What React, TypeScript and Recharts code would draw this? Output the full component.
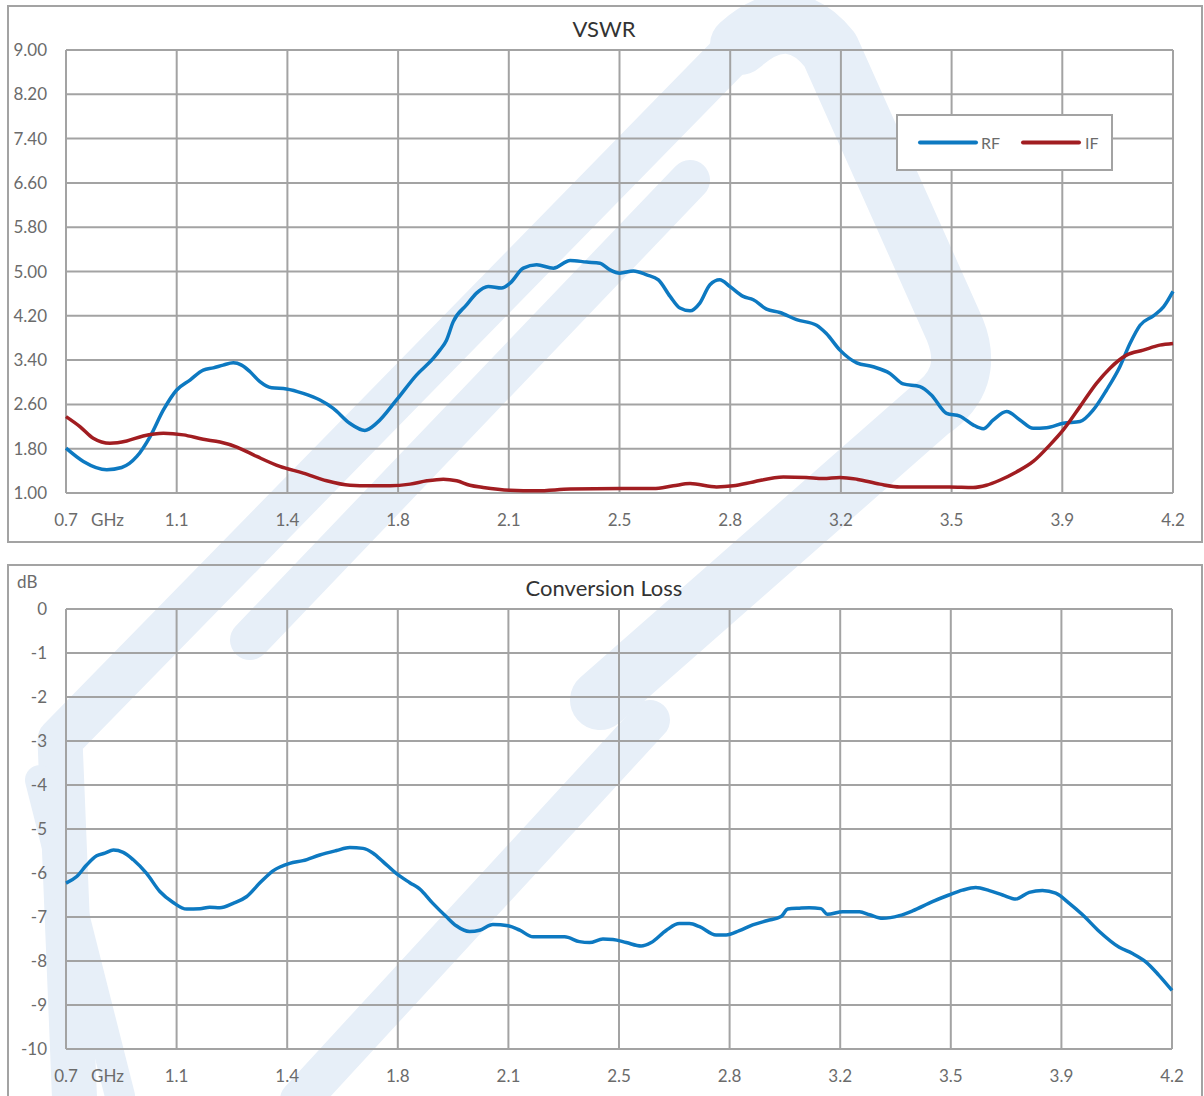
import React from "react";
import { LineChart, Line, XAxis, YAxis, CartesianGrid } from "recharts";

// frequency axis (GHz), shared by both charts
const freqTicks = [0.7, 1.05, 1.4, 1.75, 2.1, 2.45, 2.8, 3.15, 3.5, 3.85, 4.2];
const freqLabels = ["0.7", "1.1", "1.4", "1.8", "2.1", "2.5", "2.8", "3.2", "3.5", "3.9", "4.2"];

const vswrTicks = [1.0, 1.8, 2.6, 3.4, 4.2, 5.0, 5.8, 6.6, 7.4, 8.2, 9.0];
const lossTicks = [-10, -9, -8, -7, -6, -5, -4, -3, -2, -1, 0];

// RF port VSWR
const rfFreq = [
  0.7, 0.755, 0.829, 0.876, 0.924, 0.966, 1.008, 1.05, 1.092, 1.134, 1.166, 1.197, 1.229, 1.255,
  1.282, 1.313, 1.35, 1.397, 1.45, 1.503, 1.545, 1.597, 1.645, 1.682, 1.745, 1.808, 1.861, 1.882,
  1.903, 1.924, 1.967, 1.998, 2.035, 2.077, 2.104, 2.146, 2.188, 2.241, 2.294, 2.346, 2.388, 2.42,
  2.451, 2.494, 2.536, 2.573, 2.61, 2.641, 2.673, 2.704, 2.736, 2.767, 2.799, 2.841, 2.873, 2.915,
  2.957, 3.01, 3.073, 3.104, 3.147, 3.2, 3.252, 3.305, 3.347, 3.4, 3.436, 3.484, 3.526, 3.568, 3.6,
  3.632, 3.674, 3.716, 3.758, 3.8, 3.853, 3.906, 3.948, 3.99, 4.032, 4.064, 4.096, 4.138, 4.17, 4.2,
];
const rfVswr = [
  1.81, 1.57, 1.42, 1.46, 1.66, 2.02, 2.5, 2.86, 3.04, 3.22, 3.26, 3.31, 3.35, 3.31,
  3.19, 3.01, 2.9, 2.88, 2.8, 2.68, 2.53, 2.26, 2.13, 2.26, 2.68, 3.13, 3.43, 3.58,
  3.76, 4.09, 4.4, 4.61, 4.73, 4.7, 4.79, 5.06, 5.12, 5.06, 5.2, 5.17, 5.15, 5.03,
  4.97, 5.01, 4.94, 4.85, 4.55, 4.34, 4.29, 4.43, 4.76, 4.85, 4.73, 4.55, 4.49, 4.32,
  4.26, 4.13, 4.03, 3.88, 3.58, 3.35, 3.28, 3.16, 2.97, 2.92, 2.77, 2.44, 2.39, 2.23, 2.16,
  2.32, 2.47, 2.32, 2.17, 2.18, 2.26, 2.29, 2.5, 2.86, 3.28, 3.7, 4.03, 4.2, 4.36, 4.64,
];

// IF port VSWR
const ifFreq = [
  0.7, 0.744, 0.786, 0.839, 0.892, 0.944, 1.008, 1.071, 1.134, 1.187, 1.24, 1.303, 1.376, 1.45,
  1.524, 1.598, 1.661, 1.725, 1.788, 1.841, 1.893, 1.935, 1.977, 2.019, 2.104, 2.188, 2.294, 2.451,
  2.557, 2.62, 2.673, 2.757, 2.81, 2.873, 2.968, 3.041, 3.094, 3.147, 3.2, 3.273, 3.337, 3.42,
  3.494, 3.568, 3.61, 3.652, 3.705, 3.758, 3.811, 3.853, 3.906, 3.958, 4.0, 4.053, 4.106, 4.158, 4.2,
];
const ifVswr = [
  2.38, 2.2, 1.99, 1.9, 1.94, 2.03, 2.08, 2.05, 1.97, 1.92, 1.83, 1.66, 1.48, 1.36,
  1.22, 1.14, 1.13, 1.13, 1.16, 1.22, 1.25, 1.22, 1.14, 1.1, 1.05, 1.04, 1.07, 1.08,
  1.08, 1.13, 1.17, 1.11, 1.13, 1.2, 1.29, 1.28, 1.26, 1.28, 1.25, 1.16, 1.11, 1.11,
  1.11, 1.1, 1.14, 1.23, 1.38, 1.57, 1.87, 2.14, 2.56, 2.98, 3.25, 3.49, 3.58, 3.67, 3.7,
];

// conversion loss (dB)
const clFreq = [
  0.7, 0.734, 0.765, 0.797, 0.823, 0.85, 0.881, 0.913, 0.955, 0.997, 1.039, 1.082, 1.124, 1.155,
  1.187, 1.229, 1.271, 1.313, 1.355, 1.408, 1.45, 1.503, 1.556, 1.598, 1.64, 1.672, 1.703, 1.745,
  1.788, 1.819, 1.861, 1.903, 1.935, 1.977, 2.009, 2.051, 2.099, 2.136, 2.178, 2.22, 2.278, 2.325,
  2.357, 2.399, 2.431, 2.473, 2.52, 2.552, 2.6, 2.641, 2.673, 2.705, 2.757, 2.789, 2.831, 2.873,
  2.92, 2.963, 2.984, 3.021, 3.052, 3.089, 3.11, 3.158, 3.211, 3.243, 3.284, 3.337, 3.379, 3.442,
  3.494, 3.537, 3.579, 3.622, 3.664, 3.706, 3.748, 3.79, 3.832, 3.875, 3.917, 3.97, 4.033, 4.075,
  4.117, 4.158, 4.2,
];
const clLoss = [
  -6.23, -6.08, -5.82, -5.61, -5.55, -5.48, -5.53, -5.7, -6.01, -6.42, -6.67, -6.82, -6.81, -6.78,
  -6.79, -6.69, -6.54, -6.23, -5.95, -5.78, -5.72, -5.59, -5.49, -5.42, -5.44, -5.55, -5.74, -6.01,
  -6.22, -6.36, -6.69, -6.99, -7.2, -7.33, -7.3, -7.17, -7.2, -7.3, -7.45, -7.45, -7.45, -7.56,
  -7.58, -7.5, -7.51, -7.58, -7.66, -7.58, -7.3, -7.15, -7.15, -7.22, -7.41, -7.41, -7.31, -7.18,
  -7.08, -6.99, -6.82, -6.8, -6.79, -6.81, -6.94, -6.88, -6.88, -6.95, -7.03, -6.97, -6.86, -6.65,
  -6.5, -6.39, -6.33, -6.4, -6.5, -6.59, -6.44, -6.4, -6.46, -6.69, -6.95, -7.33, -7.69, -7.83,
  -8.02, -8.32, -8.67,
];

const toPoints = (f: number[], v: number[]) => f.map((x, i) => ({ f: x, v: v[i] }));

const FONT = "Lato, 'Open Sans', sans-serif";
const GRID = "#a3a3a3";
const TICK = "#6b6b6b";
const BLUE = "#0d79c1";
const RED = "#a11d21";

function FreqTick(props: any) {
  const { x, y, payload } = props;
  const i = freqTicks.indexOf(payload.value);
  return (
    <g>
      <text x={x} y={y + 33} textAnchor="middle" fill={TICK} fontSize={17} fontFamily={FONT}>
        {i >= 0 ? freqLabels[i] : ""}
      </text>
      {i === 0 && (
        <text x={x + 25} y={y + 33} fill={TICK} fontSize={17} fontFamily={FONT}>
          GHz
        </text>
      )}
    </g>
  );
}

function ValueTick(props: any) {
  const { x, y, payload, digits } = props;
  return (
    <text x={x - 19} y={y + 6} textAnchor="end" fill={TICK} fontSize={17} fontFamily={FONT}>
      {digits ? Number(payload.value).toFixed(digits) : String(payload.value)}
    </text>
  );
}

function Watermark() {
  const c = "#e7eff8";
  return (
    <svg width={1204} height={1096} style={{ position: "absolute", left: 0, top: 0 }}>
      <g fill="none" stroke={c} strokeLinejoin="round" strokeLinecap="round">
        <path d="M 75 1110 L 60 740 L 740 45" strokeWidth={45} />
        <path d="M 740 45 Q 790 0 830 50 L 955 330 Q 975 380 930 410 L 600 700" strokeWidth={60} />
        <path d="M 250 640 L 690 180" strokeWidth={40} />
        <path d="M 300 1100 L 650 720" strokeWidth={40} />
        <path d="M 40 780 L 120 1096" strokeWidth={30} />
      </g>
    </svg>
  );
}

export default function App() {
  const rf = toPoints(rfFreq, rfVswr);
  const iff = toPoints(ifFreq, ifVswr);
  const cl = toPoints(clFreq, clLoss);

  return (
    <div style={{ position: "absolute", left: 0, top: 0, width: 1204, height: 1096, background: "#fff", overflow: "hidden" }}>
      <Watermark />

      {/* frames and titles */}
      <svg width={1204} height={1096} style={{ position: "absolute", left: 0, top: 0 }}>
        <rect x={8} y={6} width={1194} height={536} fill="none" stroke={GRID} strokeWidth={2} />
        <rect x={8} y={565} width={1194} height={545} fill="none" stroke={GRID} strokeWidth={2} />
        <text x={604} y={37} textAnchor="middle" fill="#333" fontSize={22} fontFamily={FONT}>VSWR</text>
        <text x={604} y={596} textAnchor="middle" fill="#333" fontSize={22} fontFamily={FONT}>Conversion Loss</text>
        <text x={17} y={588} fill={TICK} fontSize={17} fontFamily={FONT}>dB</text>
      </svg>

      <div style={{ position: "absolute", left: 8, top: 6 }}>
        <LineChart width={1194} height={536} margin={{ top: 44, right: 29, left: 8, bottom: 19 }}>
          <CartesianGrid stroke={GRID} strokeWidth={2} />
          <XAxis
            type="number"
            dataKey="f"
            domain={[0.7, 4.2]}
            ticks={freqTicks}
            interval={0}
            height={30}
            axisLine={false}
            tickLine={false}
            tickSize={0}
            tickMargin={0}
            tick={<FreqTick />}
            allowDuplicatedCategory={false}
          />
          <YAxis
            type="number"
            domain={[1, 9]}
            ticks={vswrTicks}
            interval={0}
            width={50}
            axisLine={false}
            tickLine={false}
            tickSize={0}
            tickMargin={0}
            tick={<ValueTick digits={2} />}
          />
          <Line data={rf} dataKey="v" type="monotone" stroke={BLUE} strokeWidth={3.5} dot={false} isAnimationActive={false} />
          <Line data={iff} dataKey="v" type="monotone" stroke={RED} strokeWidth={3.5} dot={false} isAnimationActive={false} />
        </LineChart>
      </div>

      {/* legend */}
      <svg width={1204} height={1096} style={{ position: "absolute", left: 0, top: 0, pointerEvents: "none" }}>
        <rect x={897} y={115} width={215} height={55} fill="#fff" stroke={GRID} strokeWidth={2} />
        <line x1={920} y1={142.5} x2={976} y2={142.5} stroke={BLUE} strokeWidth={4} strokeLinecap="round" />
        <text x={981} y={148.5} fill={TICK} fontSize={16} fontFamily={FONT}>RF</text>
        <line x1={1023} y1={142.5} x2={1079} y2={142.5} stroke={RED} strokeWidth={4} strokeLinecap="round" />
        <text x={1085} y={148.5} fill={TICK} fontSize={16} fontFamily={FONT}>IF</text>
      </svg>

      <div style={{ position: "absolute", left: 8, top: 565 }}>
        <LineChart width={1194} height={531} data={cl} margin={{ top: 44, right: 30, left: 8, bottom: 17 }}>
          <CartesianGrid stroke={GRID} strokeWidth={2} />
          <XAxis
            type="number"
            dataKey="f"
            domain={[0.7, 4.2]}
            ticks={freqTicks}
            interval={0}
            height={30}
            axisLine={false}
            tickLine={false}
            tickSize={0}
            tickMargin={0}
            tick={<FreqTick />}
          />
          <YAxis
            type="number"
            domain={[-10, 0]}
            ticks={lossTicks}
            interval={0}
            width={50}
            axisLine={false}
            tickLine={false}
            tickSize={0}
            tickMargin={0}
            tick={<ValueTick digits={0} />}
          />
          <Line dataKey="v" type="monotone" stroke={BLUE} strokeWidth={3.5} dot={false} isAnimationActive={false} />
        </LineChart>
      </div>
    </div>
  );
}
